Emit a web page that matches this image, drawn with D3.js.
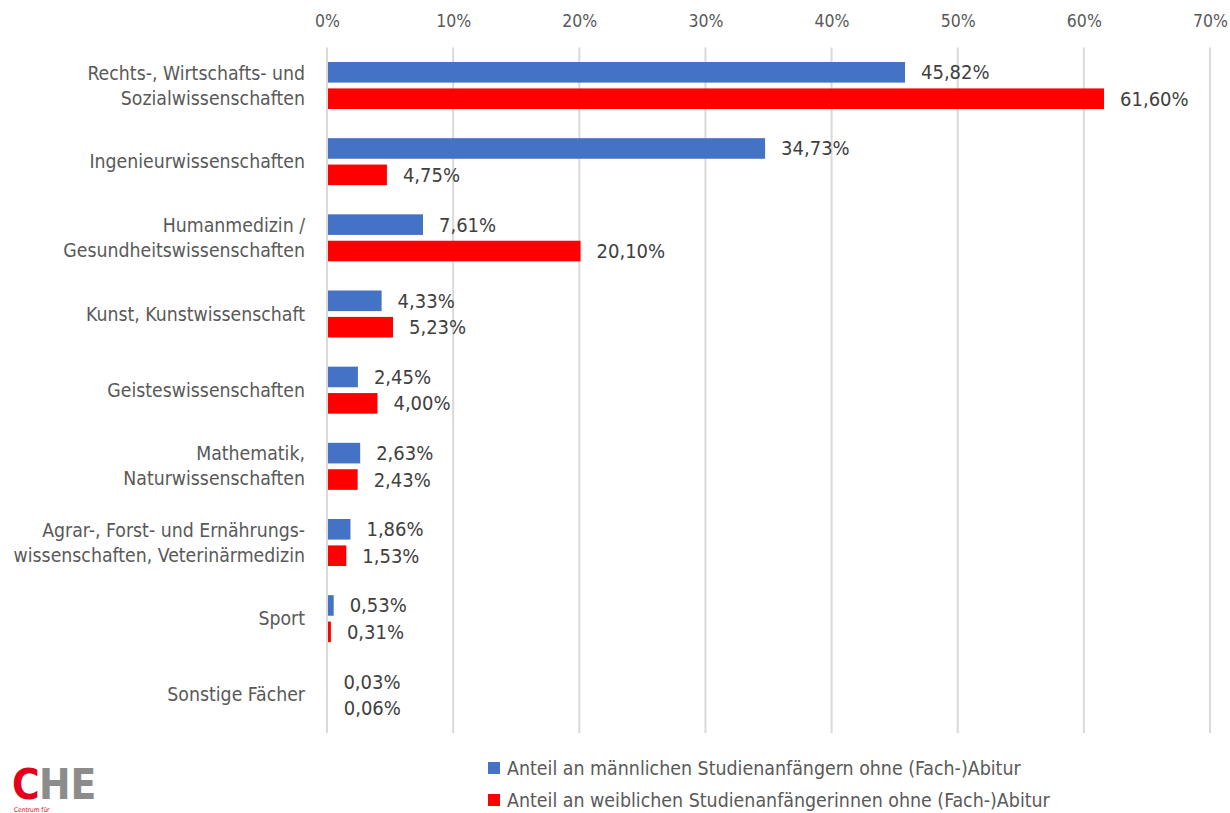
<!DOCTYPE html>
<html>
<head>
<meta charset="utf-8">
<script src="https://cdn.jsdelivr.net/npm/d3@7"></script>
<style>
  body { margin: 0; background: #fff; }
  svg text { font-family: "Liberation Sans Narrow", "DejaVu Sans Condensed", "Roboto", sans-serif; }
</style>
</head>
<body>
<svg id="chart" width="1230" height="813"></svg>
<script>
// Fächergruppen (von oben nach unten)
var categories = [
  ["Rechts-, Wirtschafts- und", "Sozialwissenschaften"],
  ["Ingenieurwissenschaften"],
  ["Humanmedizin /", "Gesundheitswissenschaften"],
  ["Kunst, Kunstwissenschaft"],
  ["Geisteswissenschaften"],
  ["Mathematik,", "Naturwissenschaften"],
  ["Agrar-, Forst- und Ernährungs-", "wissenschaften, Veterinärmedizin"],
  ["Sport"],
  ["Sonstige Fächer"]
];
// Anteile in Prozent
var maennlich = [45.82, 34.73, 7.61, 4.33, 2.45, 2.63, 1.86, 0.53, 0.03];
var weiblich  = [61.60, 4.75, 20.10, 5.23, 4.00, 2.43, 1.53, 0.31, 0.06];
var seriesNames = [
  "Anteil an männlichen Studienanfängern ohne (Fach-)Abitur",
  "Anteil an weiblichen Studienanfängerinnen ohne (Fach-)Abitur"
];
var tickValues = [0, 10, 20, 30, 40, 50, 60, 70];
var colors = ["#4472c4", "#ff0000"];

var svg = d3.select("#chart");
var plotLeft = 327, plotRight = 1210, plotTop = 47.5, plotBottom = 733;

var x = d3.scaleLinear().domain([0, 70]).range([plotLeft, plotRight]);
var y = d3.scaleBand().domain(d3.range(categories.length)).range([plotTop, plotBottom]);
// zwei Balken pro Gruppe
var ySub = d3.scaleBand().domain([0, 1]).range([14.5, 61.5]).paddingInner(0.22);

// Gitterlinien
svg.append("g").selectAll("line")
  .data(tickValues)
  .enter().append("line")
  .attr("x1", function (d) { return x(d); })
  .attr("x2", function (d) { return x(d); })
  .attr("y1", plotTop)
  .attr("y2", plotBottom)
  .attr("stroke", "#d9d9d9")
  .attr("stroke-width", 2);

// Achse oben
var axis = d3.axisTop(x).tickValues(tickValues).tickSize(0).tickPadding(0)
  .tickFormat(function (d) { return d + "%"; });
var gAxis = svg.append("g").attr("transform", "translate(0,27)").call(axis);
gAxis.select(".domain").remove();
gAxis.selectAll("text").attr("font-size", 17.5).attr("fill", "#595959")
  .style("font-family", "Liberation Sans Narrow, DejaVu Sans Condensed, sans-serif");

// Kategorien
var cat = svg.append("g").selectAll("text")
  .data(categories)
  .enter().append("text")
  .attr("text-anchor", "end")
  .attr("font-size", 19.3)
  .attr("fill", "#595959")
  .attr("x", 305)
  .attr("y", function (d, i) { return y(i) + y.bandwidth() / 2 - (d.length - 1) * 12.5 + 6.5; });
cat.selectAll("tspan")
  .data(function (d) { return d; })
  .enter().append("tspan")
  .attr("x", 305)
  .attr("dy", function (d, i) { return i === 0 ? 0 : 25; })
  .text(function (d) { return d; });

// Balken
var series = [maennlich, weiblich];
series.forEach(function (vals, s) {
  var g = svg.append("g");
  g.selectAll("rect")
    .data(vals)
    .enter().append("rect")
    .attr("x", x(0) + 1)
    .attr("y", function (d, i) { return y(i) + ySub(s); })
    .attr("width", function (d) { return Math.max(0, x(d) - x(0) - 1); })
    .attr("height", ySub.bandwidth())
    .attr("fill", colors[s]);
  g.selectAll("text")
    .data(vals)
    .enter().append("text")
    .attr("x", function (d) { return x(d) + 16; })
    .attr("y", function (d, i) { return y(i) + ySub(s) + ySub.bandwidth() / 2 + 7; })
    .attr("font-size", 20)
    .attr("fill", "#404040")
    .text(function (d) { return d.toFixed(2).replace(".", ",") + "%"; });
});

// Legende
var leg = svg.append("g").selectAll("g")
  .data(seriesNames)
  .enter().append("g")
  .attr("transform", function (d, i) { return "translate(488," + (762 + i * 32) + ")"; });
leg.append("rect").attr("width", 12).attr("height", 12)
  .attr("fill", function (d, i) { return colors[i]; });
leg.append("text").attr("x", 19).attr("y", 13).attr("font-size", 19.4).attr("fill", "#595959")
  .text(function (d) { return d; });

// Logo
var logo = svg.append("g").attr("transform", "translate(12,799)");
logo.append("text").attr("font-size", 42).attr("font-weight", "bold").attr("fill", "#e2001a").text("C");
logo.append("text").attr("x", 27).attr("font-size", 42).attr("font-weight", "bold").attr("fill", "#8c8c8c").text("HE");
logo.append("text").attr("x", 2).attr("y", 13).attr("font-size", 6.5).attr("fill", "#e2001a").text("Centrum für");
</script>
</body>
</html>
